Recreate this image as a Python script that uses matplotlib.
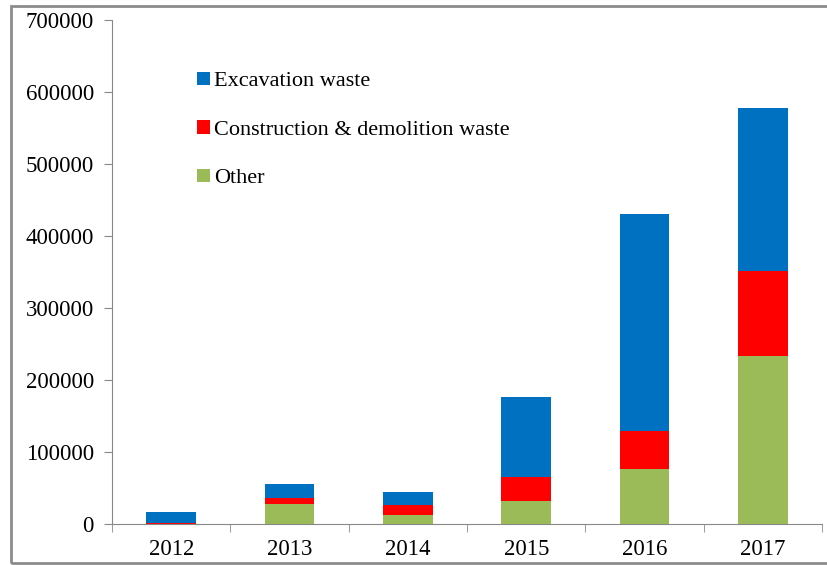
import numpy as np
import matplotlib.pyplot as plt
from matplotlib.patches import Rectangle

years = ['2012', '2013', '2014', '2015', '2016', '2017']
other = [0, 27300, 13000, 32000, 76000, 232800]
construction = [2000, 9200, 13000, 33300, 53600, 118600]
excavation = [14700, 19000, 19000, 110700, 300900, 226400]

plt.rcParams['font.family'] = ['Liberation Serif', 'DejaVu Serif']

fig = plt.figure(figsize=[8.28, 5.65], dpi=100)
ax = fig.add_axes([0.1353, 0.0726, 0.8575, 0.892])

# outer chart frame
fig.patches.append(Rectangle((11 / 828, 2 / 565), 1.0, 557 / 565, transform=fig.transFigure,
                             fill=False, edgecolor='#8c8c8c', linewidth=2.0))

x = np.arange(len(years))
w = 0.42
ax.bar(x, other, w, color='#9BBB59', label='Other')
ax.bar(x, construction, w, bottom=other, color='#FF0000', label='Construction & demolition waste')
bottom2 = np.array(other) + np.array(construction)
ax.bar(x, excavation, w, bottom=bottom2, color='#0070C0', label='Excavation waste')

ax.set_xlim(-0.5, len(years) - 0.5)
ax.set_ylim(0, 700000)
ax.set_yticks(np.arange(0, 700001, 100000))
ax.set_yticklabels([str(v) for v in range(0, 700001, 100000)], fontsize=16.5)
ax.set_xticks(x)
ax.set_xticklabels(years, fontsize=16.5)
ax.set_xticks(np.arange(-0.5, len(years)), minor=True)
ax.tick_params(axis='x', which='major', length=0, pad=11)
ax.tick_params(axis='x', which='minor', length=6, color='#888888', direction='out')
ax.tick_params(axis='y', length=6, color='#888888', direction='out', pad=7)

for s in ['top', 'right']:
    ax.spines[s].set_visible(False)
for s in ['left', 'bottom']:
    ax.spines[s].set_color('#888888')

handles, labels = ax.get_legend_handles_labels()
ax.legend(handles[::-1], labels[::-1], loc='upper left', bbox_to_anchor=(0.092, 0.937),
          frameon=False, fontsize=16, handlelength=0.55, handleheight=0.55,
          handletextpad=0.2, labelspacing=1.3)

fig.savefig('out.png', dpi=100)
